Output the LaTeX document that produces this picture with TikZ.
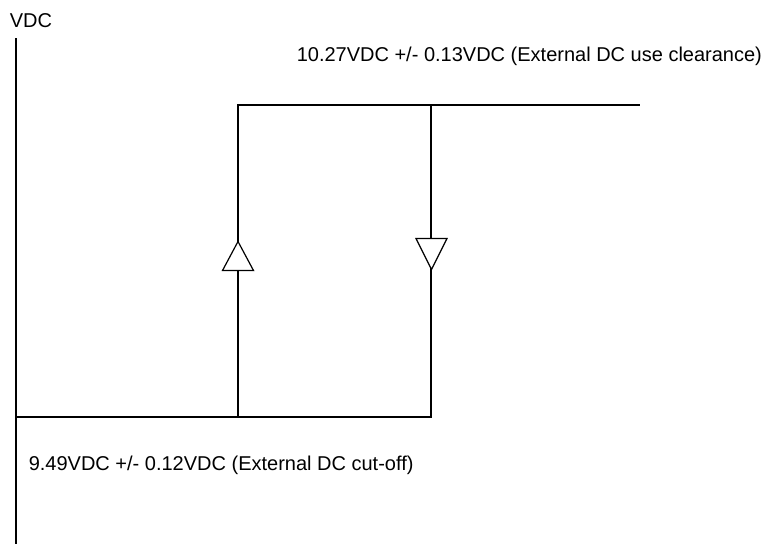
\documentclass[tikz,border=0pt]{standalone}
\usepackage{fontspec}
\setmainfont{Liberation Sans}
\begin{document}
\begin{tikzpicture}[x=0.75pt,y=-0.75pt,
  wire/.style={line width=1.2pt,black},
  thin wire/.style={line width=0.9pt,black},
  tri/.style={line width=0.9pt,black,fill=white},
  lbl/.style={inner sep=0pt,anchor=base west,font=\fontsize{15}{18}\selectfont}]
\useasboundingbox (0,0) rectangle (765,544);
\node[lbl] (vdc) at (9.5,27.3) {VDC};
\node[lbl] (hi) at (296.5,61.5) {10.27VDC +/- 0.13VDC (External DC use clearance)};
\node[lbl] (lo) at (28.5,470.5) {9.49VDC +/- 0.12VDC (External DC cut-off)};
\coordinate (axTop) at (16,38);
\coordinate (axBot) at (16,544);
\coordinate (loL) at (16,417);
\coordinate (loM) at (267,417);
\coordinate (upB) at (238,417);
\coordinate (upT) at (238,105);
\coordinate (dnT) at (431,105);
\coordinate (dnB) at (431,417);
\coordinate (hiR) at (640,105);
\draw[wire] (axTop) -- (axBot);
\draw[wire] (loL) -- (loM);
\draw[thin wire] (upB) -- (upT) -- (hiR);
\draw[thin wire] (dnT) -- (dnB) -- (upB);
\draw[tri] (238,241.5) -- (253.5,270.5) -- (222.5,270.5) -- cycle;
\draw[tri] (416,238.5) -- (447,238.5) -- (431.5,269.5) -- cycle;
\end{tikzpicture}
\end{document}
